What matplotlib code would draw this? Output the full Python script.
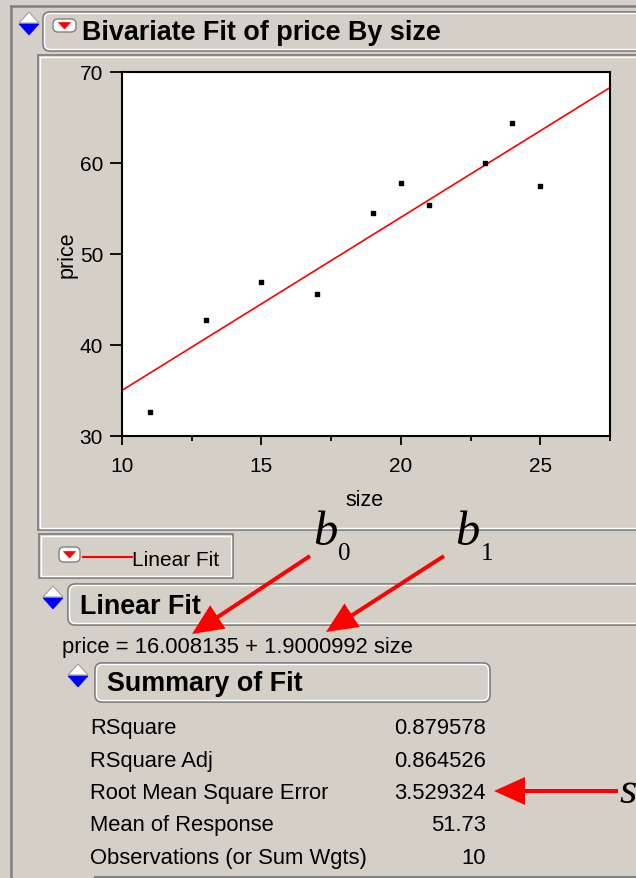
import matplotlib
matplotlib.use('Agg')
import matplotlib.pyplot as plt
from matplotlib.patches import FancyBboxPatch, Polygon, Rectangle
import numpy as np

plt.rcParams['font.family'] = ['Liberation Sans', 'DejaVu Sans']

# Data
size = [11, 13, 15, 17, 19, 20, 21, 23, 24, 25]
price = [32.6, 42.7, 46.9, 45.6, 54.5, 57.8, 55.4, 60.0, 64.4, 57.5]

# Fit results as printed in the report
b0 = 16.008135
b1 = 1.9000992
fit_labels = ['RSquare', 'RSquare Adj', 'Root Mean Square Error',
              'Mean of Response', 'Observations (or Sum Wgts)']
fit_values = [0.879578, 0.864526, 3.529324, 51.73, 10]

xticks = [10, 15, 20, 25]
xminor = [12.5, 17.5, 22.5, 27.5]
yticks = [30, 40, 50, 60, 70]

W, H = 636, 879
BG = '#d4d0c8'
EDGE = '#808080'

fig = plt.figure(figsize=(W / 100, H / 100), dpi=100)
fig.patch.set_facecolor(BG)

# pixel-space axes for the report "chrome"
bg = fig.add_axes([0, 0, 1, 1])
bg.set_xlim(0, W)
bg.set_ylim(H, 0)
bg.axis('off')


def header_box(x0, y0, x1, y1):
    bg.add_patch(FancyBboxPatch((x0, y0), x1 - x0, y1 - y0,
                                boxstyle='round,pad=0,rounding_size=7',
                                fc=BG, ec=EDGE, lw=1.3))
    bg.add_patch(FancyBboxPatch((x0 + 1.5, y0 + 1.5), x1 - x0 - 3, y1 - y0 - 3,
                                boxstyle='round,pad=0,rounding_size=6',
                                fc='none', ec='white', lw=1.0))


def diamond(cx, cy, w=10, h=11):
    bg.add_patch(Polygon([(cx - w, cy), (cx + w, cy), (cx, cy - h)],
                         closed=True, fc='white', ec='#a0a0a0', lw=0.8))
    bg.add_patch(Polygon([(cx - w, cy + 1), (cx + w, cy + 1), (cx, cy + h + 1)],
                         closed=True, fc='#0000ff', ec='#0000ff', lw=0.5))


def red_button(x0, y0, x1, y1):
    bg.add_patch(FancyBboxPatch((x0, y0), x1 - x0, y1 - y0,
                                boxstyle='round,pad=0,rounding_size=5',
                                fc='white', ec=EDGE, lw=1.0))
    cx, cy = (x0 + x1) / 2, (y0 + y1) / 2
    bg.add_patch(Polygon([(cx - 6, cy - 3), (cx + 6, cy - 3), (cx, cy + 3.5)],
                         closed=True, fc='#ff0000', ec='#ff0000', lw=0.5))


# outer frame
bg.plot([11, W], [7, 7], color=EDGE, lw=1.8)
bg.plot([11, 11], [7, H], color=EDGE, lw=1.8)

# title bar
header_box(43, 13, 720, 52)
diamond(29, 24)
red_button(53, 20, 76, 33)
bg.text(82, 40, 'Bivariate Fit of price By size', fontsize=19.4, fontweight='bold',
        va='baseline', ha='left')

# plot panel
bg.add_patch(Rectangle((38, 56), 700, 475, fc=BG, ec=EDGE, lw=1.3))
bg.add_patch(Rectangle((40, 58), 700, 471, fc='none', ec='white', lw=1.0))

# legend box
bg.add_patch(Rectangle((39, 535), 194, 44, fc=BG, ec=EDGE, lw=1.3))
bg.add_patch(Rectangle((41, 537), 190, 40, fc='none', ec='white', lw=1.0))
red_button(59, 548, 80, 563)
bg.plot([83, 132], [558, 558], color='#ff0000', lw=1.5)
bg.text(132, 561, 'Linear Fit', fontsize=15, va='center', ha='left')

# Linear Fit section
header_box(68, 585, 720, 626)
diamond(53, 598)
bg.text(80, 614, 'Linear Fit', fontsize=19.4, fontweight='bold', va='baseline')
bg.text(62, 648, f'price = {b0} + {b1} size', fontsize=15.8, va='center')

# Summary of Fit section
header_box(95, 664, 490, 703)
diamond(78, 676)
bg.text(107, 691, 'Summary of Fit', fontsize=19.4, fontweight='bold', va='baseline')
for i, (lab, val) in enumerate(zip(fit_labels, fit_values)):
    yy = 729 + i * 32.3
    bg.text(90, yy, lab, fontsize=15.8, va='center')
    bg.text(486, yy, str(val), fontsize=15.8, va='center', ha='right')
bg.plot([95, W], [878, 878], color=EDGE, lw=1.5)

# annotations: b0, b1, s with red arrows
serif = ['Liberation Serif', 'DejaVu Serif']
bg.text(313, 545, 'b', family=serif, style='italic', fontsize=35, va='baseline')
bg.text(338, 560, '0', family=serif, fontsize=18, va='baseline')
bg.text(455, 545, 'b', family=serif, style='italic', fontsize=35, va='baseline')
bg.text(481, 560, '1', family=serif, fontsize=18, va='baseline')
bg.text(619, 803, 's', family=serif, style='italic', fontsize=32, va='baseline')
for (tx, ty), (hx, hy) in [((310, 557), (192, 635)),
                           ((444, 557), (326, 633)),
                           ((618, 792), (494, 792))]:
    bg.arrow(tx, ty, hx - tx, hy - ty, width=4, head_width=28, head_length=31,
             length_includes_head=True, fc='#ff0000', ec='#ff0000', lw=0)

# the scatter plot
ax = fig.add_axes([122 / W, 1 - 437 / H, 488 / W, 364.3 / H])
ax.set_facecolor('white')
ax.scatter(size, price, marker='s', s=8, color='black', zorder=3)
xs = np.array([10, 27.5])
ax.plot(xs, b0 + b1 * xs, color='#ff0000', lw=1.2)
ax.set_xlim(10, 27.5)
ax.set_ylim(30, 70)
ax.set_xticks(xticks)
ax.set_xticks(xminor, minor=True)
ax.set_yticks(yticks)
for sp in ax.spines.values():
    sp.set_color('black')
    sp.set_linewidth(1.5)
ax.tick_params(axis='y', length=8.6, width=1.3, pad=5, labelsize=15)
ax.tick_params(axis='x', which='major', length=6.5, width=1.3, pad=8, labelsize=15)
ax.tick_params(axis='x', which='minor', length=3.6, width=1.3)
ax.set_xlabel('size', fontsize=15.5)
ax.set_ylabel('price', fontsize=15.5)
ax.xaxis.set_label_coords(0.496, -0.145)
ax.yaxis.set_label_coords(-0.092, 0.5)

fig.savefig('out.png', dpi=100, facecolor=BG)
